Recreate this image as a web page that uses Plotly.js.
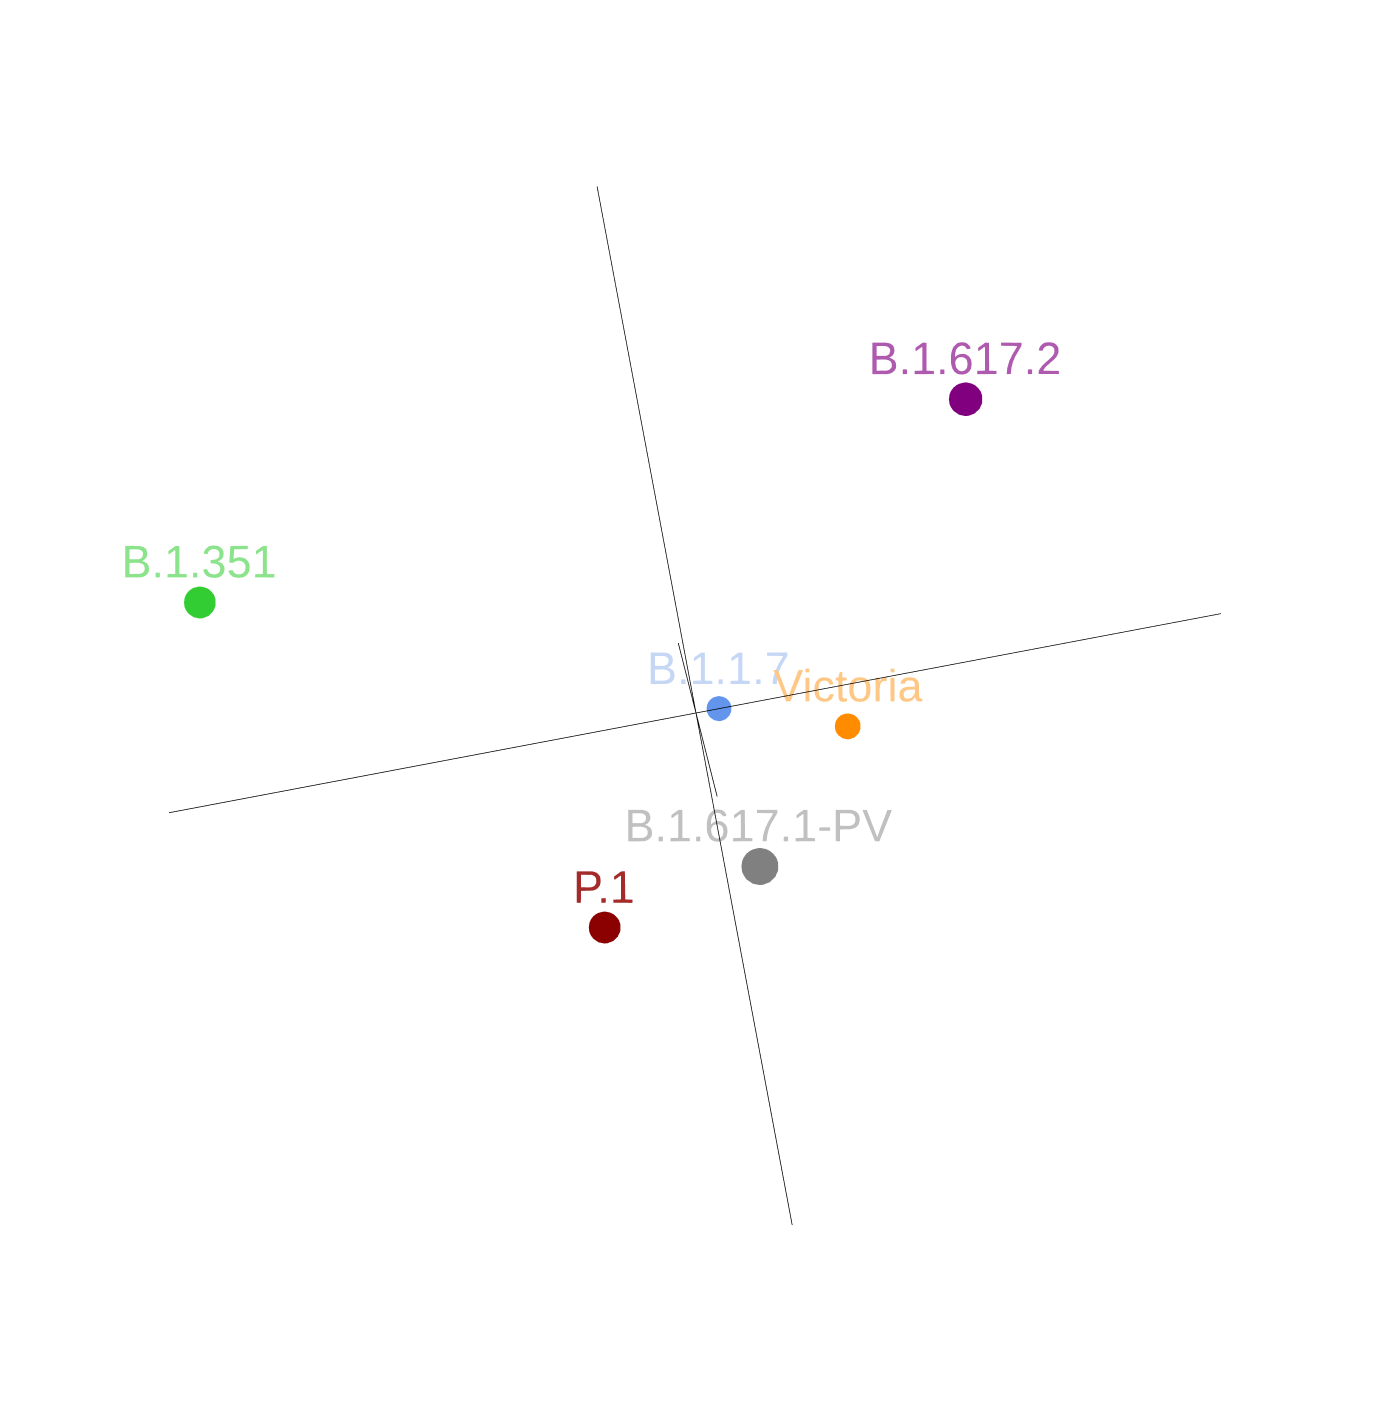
<!DOCTYPE html>
<html>
<head>
<meta charset="utf-8">
<script src="https://cdn.plot.ly/plotly-3.0.1.min.js"></script>
<style>html,body{margin:0;padding:0;background:#fff;}#chart{width:1392px;height:1426px;}</style>
</head>
<body>
<div id="chart"></div>
<script>
// Variant positions in the 3D map
const variants = ['B.1.617.2', 'B.1.351', 'P.1', 'B.1.617.1-PV', 'B.1.1.7', 'Victoria'];
const xs = [3.02, -4.36, -1.21, 0.32, 0.22, 1.37];
const ys = [2.35, 1.81, -1.83, -1.54, -0.04, -0.42];
const zs = [-0.63, -0.62, -0.04, -0.07, -0.30, -0.23];
const markerColors = ['#800080', '#32cd32', '#8b0000', '#808080', '#6495ed', '#ff8c00'];
const textColors = ['#ae5aae', '#8be38b', '#a52a2a', '#c0c0c0', '#c5d7f5', '#ffc785'];
const markerSizes = [39, 37, 37, 43, 29, 30];

// Axis lines through the origin
const axisX = [-5.01, 4.99];
const axisY = [-4.92, 5.06];
const axisZ = [-4.54, 5.42];

// Camera
const D = 4.0;
const zoom = 1.802;
const eyeDir = [-0.00915, 0.14819, 0.98876];
const upVec = [0.1859, 0.9716, -0.1439];

// Labels sit a little closer to their markers than Plotly's default "top center"
const labelShift = -0.196; // along the screen-up direction, in data units
const tx = xs.map((v) => v + labelShift * upVec[0]);
const ty = ys.map((v) => v + labelShift * upVec[1]);
const tz = zs.map((v) => v + labelShift * upVec[2]);

const lineStyle = {color: '#000000', width: 1.5};
const traces = [
  {type: 'scatter3d', mode: 'lines', x: axisX, y: [0, 0], z: [0, 0], line: lineStyle, hoverinfo: 'skip', showlegend: false},
  {type: 'scatter3d', mode: 'lines', x: [0, 0], y: axisY, z: [0, 0], line: lineStyle, hoverinfo: 'skip', showlegend: false},
  {type: 'scatter3d', mode: 'lines', x: [0, 0], y: [0, 0], z: axisZ, line: lineStyle, hoverinfo: 'skip', showlegend: false},
  {
    type: 'scatter3d', mode: 'markers',
    x: xs, y: ys, z: zs, text: variants,
    marker: {color: markerColors, size: markerSizes, opacity: 1, line: {width: 0}},
    hoverinfo: 'text', showlegend: false
  },
  {
    type: 'scatter3d', mode: 'text',
    x: tx, y: ty, z: tz, text: variants,
    textposition: 'top center',
    textfont: {family: '"Liberation Sans", Arial, sans-serif', size: 45, color: textColors},
    hoverinfo: 'skip', showlegend: false
  }
];

const hiddenAxis = {visible: false, range: [-6, 6], autorange: false};

const layout = {
  width: 1392, height: 1426,
  margin: {l: 0, r: 0, t: 0, b: 0},
  paper_bgcolor: '#ffffff',
  showlegend: false,
  scene: {
    domain: {x: [0, 1], y: [0, 1]},
    xaxis: hiddenAxis, yaxis: hiddenAxis, zaxis: hiddenAxis,
    aspectmode: 'manual', aspectratio: {x: zoom, y: zoom, z: zoom},
    camera: {
      eye: {x: eyeDir[0] * D, y: eyeDir[1] * D, z: eyeDir[2] * D},
      up: {x: upVec[0], y: upVec[1], z: upVec[2]},
      center: {x: 0, y: 0, z: 0},
      projection: {type: 'orthographic'}
    }
  }
};

Plotly.newPlot('chart', traces, layout, {displayModeBar: false});
</script>
</body>
</html>
